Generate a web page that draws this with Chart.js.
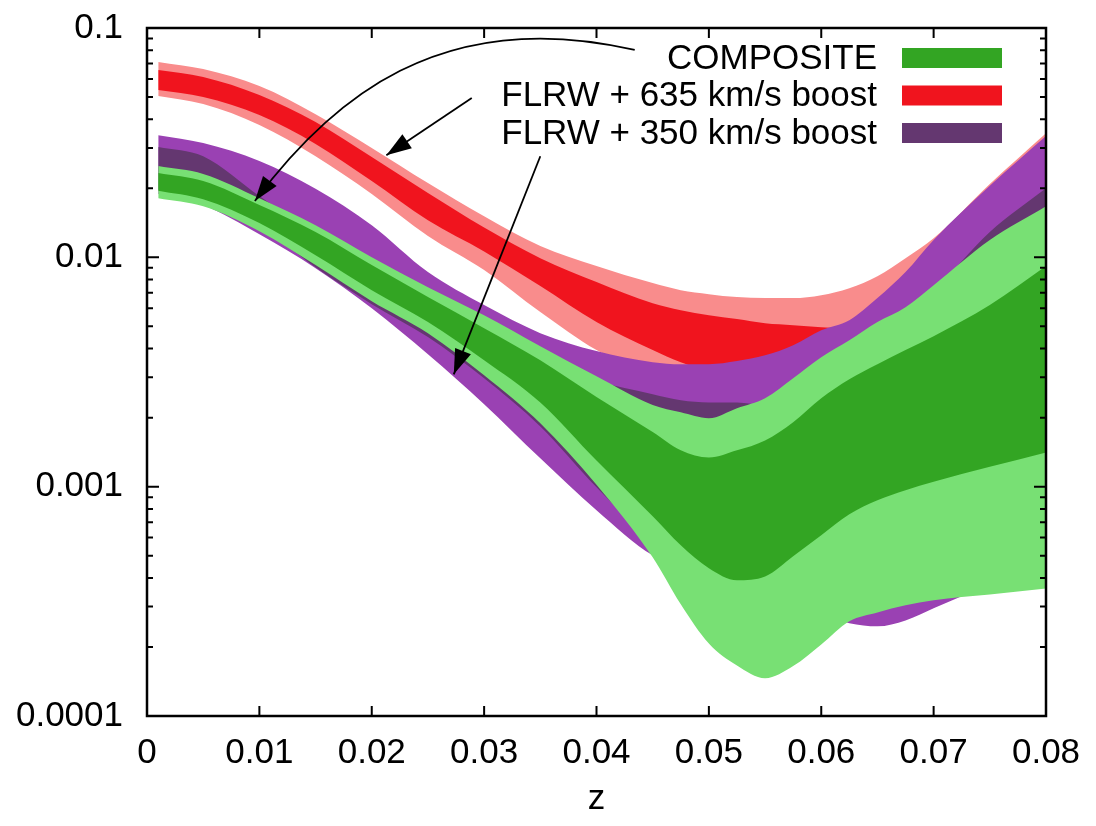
<!DOCTYPE html>
<html>
<head>
<meta charset="utf-8">
<script src="https://cdn.jsdelivr.net/npm/chart.js@4.4.1/dist/chart.umd.min.js"></script>
<style>
  html, body { margin: 0; padding: 0; background: #fff; }
  #wrap { width: 1096px; height: 826px; }
</style>
</head>
<body>
<div id="wrap"><canvas id="bandChart" width="1096" height="826"></canvas></div>
<script>
// redshift samples (x axis)
const zValues = [0.001, 0.005, 0.01, 0.015, 0.02, 0.025, 0.03, 0.035, 0.04, 0.045, 0.0475,
  0.05, 0.0525, 0.055, 0.0575, 0.06, 0.0625, 0.065, 0.0675, 0.07, 0.075, 0.08];

// COMPOSITE: outer (light) and inner (dark) bands
const compositeOuterHigh = [0.0250, 0.0231, 0.0181, 0.0138, 0.0100, 0.00741, 0.00559, 0.00410, 0.00303, 0.00227, 0.00211,
  0.00199, 0.00220, 0.00243, 0.00297, 0.00367, 0.00435, 0.00522, 0.00606, 0.00756, 0.0119, 0.0167];
const compositeInnerHigh = [0.0233, 0.0215, 0.0169, 0.0129, 0.00925, 0.00671, 0.00491, 0.00356, 0.00246, 0.00173, 0.00144,
  0.00134, 0.00144, 0.00159, 0.00191, 0.00243, 0.00294, 0.00342, 0.00394, 0.00453, 0.00619, 0.00916];
const compositeInnerLow = [0.0195, 0.0179, 0.0141, 0.0102, 0.00719, 0.00522, 0.00356, 0.00233, 0.00130, 0.000743, 0.000555,
  0.000441, 0.000391, 0.000406, 0.000497, 0.000614, 0.000758, 0.000872, 0.000965, 0.00105, 0.00122, 0.00141];
const compositeOuterLow = [0.0181, 0.0167, 0.0130, 0.00925, 0.00644, 0.00467, 0.00306, 0.00189, 0.00102, 0.000492, 0.000307,
  0.000207, 0.000166, 0.000146, 0.000165, 0.000205, 0.000259, 0.000283, 0.000304, 0.000320, 0.000339, 0.000360];

// FLRW + 635 km/s boost
const boost635OuterHigh = [0.0711, 0.0662, 0.0558, 0.0421, 0.0300, 0.0211, 0.0151, 0.0112, 0.00916, 0.00772, 0.00719,
  0.00691, 0.00671, 0.00664, 0.00664, 0.00684, 0.00734, 0.00828, 0.00992, 0.0121, 0.0209, 0.0348];
const boost635InnerHigh = [0.0656, 0.0611, 0.0510, 0.0389, 0.0274, 0.0191, 0.0135, 0.00992, 0.00780, 0.00631, 0.00588,
  0.00559, 0.00538, 0.00516, 0.00506, 0.00496, 0.00491, 0.00543, 0.00651, 0.00780, 0.0119, 0.0187];
const boost635InnerLow = [0.0537, 0.0500, 0.0417, 0.0312, 0.0215, 0.0145, 0.0106, 0.00749, 0.00522, 0.00394, 0.00349,
  0.00322, 0.00316, 0.00322, 0.00339, 0.00363, 0.00402, 0.00458, 0.00543, 0.00651, 0.00972, 0.0145];
const boost635OuterLow = [0.0505, 0.0466, 0.0378, 0.0276, 0.0189, 0.0124, 0.00880, 0.00577, 0.00394, 0.00306, 0.00277,
  0.00263, 0.00256, 0.00256, 0.00263, 0.00277, 0.00306, 0.00349, 0.00414, 0.00506, 0.00756, 0.0113];

// FLRW + 350 km/s boost
const boost350OuterHigh = [0.0341, 0.0315, 0.0263, 0.0199, 0.0138, 0.00862, 0.00619, 0.00467, 0.00390, 0.00349, 0.00342,
  0.00342, 0.00353, 0.00374, 0.00414, 0.00481, 0.00532, 0.00664, 0.00862, 0.0119, 0.0205, 0.0338];
const boost350InnerHigh = [0.0303, 0.0276, 0.0185, 0.0125, 0.00862, 0.00619, 0.00458, 0.00339, 0.00288, 0.00253, 0.00238,
  0.00233, 0.00233, 0.00227, 0.00269, 0.00339, 0.00406, 0.00491, 0.00588, 0.00719, 0.0129, 0.0200];
const boost350InnerLow = [0.0197, 0.0178, 0.0137, 0.00906, 0.00625, 0.00449, 0.00297, 0.00183, 0.000994, 0.000584, 0.000502,
  0.000477, 0.000477, 0.000477, 0.000502, 0.000555, 0.000645, 0.000750, 0.000872, 0.00101, 0.00130, 0.00195];
const boost350OuterLow = [0.0189, 0.0169, 0.0126, 0.00897, 0.00600, 0.00378, 0.00229, 0.00133, 0.000789, 0.000502, 0.000454,
  0.000411, 0.000371, 0.000336, 0.000304, 0.000275, 0.000254, 0.000246, 0.000261, 0.000295, 0.000371, 0.000423];

// axes
const xTickValues = [0, 0.01, 0.02, 0.03, 0.04, 0.05, 0.06, 0.07, 0.08];
const xTickLabels = ['0', '0.01', '0.02', '0.03', '0.04', '0.05', '0.06', '0.07', '0.08'];
const yTickValues = [0.0001, 0.001, 0.01, 0.1];
const yTickLabels = ['0.0001', '0.001', '0.01', '0.1'];

const legendLabels = ['COMPOSITE', 'FLRW + 635 km/s boost', 'FLRW + 350 km/s boost'];

// arrows, in (z, value) coordinates
const arrowComposite = { from: [0.0434, 0.0802], c1: [0.0261, 0.126], c2: [0.0163, 0.0485], to: [0.0096, 0.0176] };
const arrow635 = { from: [0.0289, 0.0495], to: [0.0213, 0.0279] };
const arrow350 = { from: [0.0350, 0.0276], to: [0.0273, 0.00309] };

const FONT = "'Liberation Sans', Arial, sans-serif";
const colors = {
  greenLight: '#78e074', greenDark: '#33a523',
  pink: '#f98c8c', red: '#f0141e',
  purpleLight: '#9a41b3', purpleDark: '#643770'
};

function line(values, color, fillNext) {
  return {
    data: zValues.map((z, i) => ({ x: z, y: values[i] })),
    backgroundColor: color,
    borderColor: 'rgba(0,0,0,0)',
    borderWidth: 0,
    pointRadius: 0,
    fill: fillNext ? '+1' : false,
    cubicInterpolationMode: 'monotone'
  };
}

// first dataset is painted last, so green inner band ends on top
const datasets = [
  line(compositeInnerHigh, colors.greenDark, true),
  line(compositeInnerLow, colors.greenDark, false),
  line(compositeOuterHigh, colors.greenLight, true),
  line(compositeOuterLow, colors.greenLight, false),
  line(boost350InnerHigh, colors.purpleDark, true),
  line(boost350InnerLow, colors.purpleDark, false),
  line(boost350OuterHigh, colors.purpleLight, true),
  line(boost350OuterLow, colors.purpleLight, false),
  line(boost635InnerHigh, colors.red, true),
  line(boost635InnerLow, colors.red, false),
  line(boost635OuterHigh, colors.pink, true),
  line(boost635OuterLow, colors.pink, false)
];

function drawHead(ctx, tip, from) {
  const ang = Math.atan2(tip.y - from.y, tip.x - from.x);
  const len = 25, half = 8.5;
  ctx.beginPath();
  ctx.moveTo(tip.x, tip.y);
  ctx.lineTo(tip.x - len * Math.cos(ang) + half * Math.sin(ang), tip.y - len * Math.sin(ang) - half * Math.cos(ang));
  ctx.lineTo(tip.x - len * Math.cos(ang) - half * Math.sin(ang), tip.y - len * Math.sin(ang) + half * Math.cos(ang));
  ctx.closePath();
  ctx.fill();
}

const decorations = {
  id: 'decorations',
  afterDatasetsDraw(chart) {
    const { ctx, chartArea: a, scales: { x, y } } = chart;
    const pt = p => ({ x: x.getPixelForValue(p[0]), y: y.getPixelForValue(p[1]) });
    ctx.save();
    ctx.strokeStyle = '#000';
    ctx.fillStyle = '#000';

    // tick marks on all four sides
    ctx.lineWidth = 2;
    ctx.beginPath();
    xTickValues.forEach(v => {
      const px = x.getPixelForValue(v);
      ctx.moveTo(px, a.bottom); ctx.lineTo(px, a.bottom - 10);
      ctx.moveTo(px, a.top); ctx.lineTo(px, a.top + 10);
    });
    yTickValues.forEach(v => {
      const py = y.getPixelForValue(v);
      ctx.moveTo(a.left, py); ctx.lineTo(a.left + 12, py);
      ctx.moveTo(a.right, py); ctx.lineTo(a.right - 12, py);
    });
    for (let e = -4; e < -1; e++) {
      for (let k = 2; k <= 9; k++) {
        const py = y.getPixelForValue(k * Math.pow(10, e));
        ctx.moveTo(a.left, py); ctx.lineTo(a.left + 6, py);
        ctx.moveTo(a.right, py); ctx.lineTo(a.right - 6, py);
      }
    }
    ctx.stroke();
    ctx.lineWidth = 2.5;
    ctx.strokeRect(a.left, a.top, a.width, a.height);

    // arrows
    ctx.lineWidth = 1.8;
    const s = pt(arrowComposite.from), c1 = pt(arrowComposite.c1), c2 = pt(arrowComposite.c2), t = pt(arrowComposite.to);
    ctx.beginPath();
    ctx.moveTo(s.x, s.y);
    ctx.bezierCurveTo(c1.x, c1.y, c2.x, c2.y, t.x, t.y);
    ctx.stroke();
    drawHead(ctx, t, c2);
    [arrow635, arrow350].forEach(ar => {
      const f = pt(ar.from), to = pt(ar.to);
      ctx.beginPath();
      ctx.moveTo(f.x, f.y);
      ctx.lineTo(to.x, to.y);
      ctx.stroke();
      drawHead(ctx, to, f);
    });
    ctx.restore();
  },
  afterDraw(chart) {
    const { ctx, chartArea: a } = chart;
    const swatches = [colors.greenDark, colors.red, colors.purpleDark];
    ctx.save();
    ctx.font = '35px ' + FONT;
    ctx.textAlign = 'right';
    ctx.textBaseline = 'middle';
    legendLabels.forEach((label, i) => {
      const cy = a.top + 30 + i * 37.5;
      ctx.fillStyle = '#000';
      ctx.fillText(label, a.right - 169, cy + 1);
      ctx.fillStyle = swatches[i];
      ctx.fillRect(a.right - 144, cy - 10, 100, 20);
    });
    ctx.restore();
  }
};

new Chart(document.getElementById('bandChart'), {
  type: 'line',
  data: { datasets },
  options: {
    responsive: false,
    devicePixelRatio: 1,
    animation: false,
    layout: { padding: { left: 0, right: 50, top: 28, bottom: 0 } },
    plugins: { legend: { display: false }, tooltip: { enabled: false } },
    scales: {
      x: {
        type: 'linear',
        min: 0,
        max: 0.08,
        afterBuildTicks: scale => { scale.ticks = xTickValues.map(v => ({ value: v })); },
        afterFit: scale => { scale.height = 110; scale.paddingLeft = 0; scale.paddingRight = 0; },
        grid: { display: false, drawTicks: false },
        border: { display: false },
        ticks: {
          callback: (v, i) => xTickLabels[i],
          color: '#000',
          padding: 16,
          maxRotation: 0,
          autoSkip: false,
          font: { family: FONT, size: 35 }
        },
        title: {
          display: true,
          text: 'z',
          color: '#000',
          padding: { top: 0, bottom: 6 },
          font: { family: FONT, size: 35 }
        }
      },
      y: {
        type: 'logarithmic',
        min: 0.0001,
        max: 0.1,
        afterBuildTicks: scale => { scale.ticks = yTickValues.map(v => ({ value: v })); },
        afterFit: scale => { scale.width = 147; scale.paddingTop = 0; scale.paddingBottom = 0; },
        grid: { display: false, drawTicks: false },
        border: { display: false },
        ticks: {
          callback: (v, i) => yTickLabels[i],
          color: '#000',
          padding: 24,
          autoSkip: false,
          font: { family: FONT, size: 35 }
        }
      }
    }
  },
  plugins: [decorations]
});
</script>
</body>
</html>
